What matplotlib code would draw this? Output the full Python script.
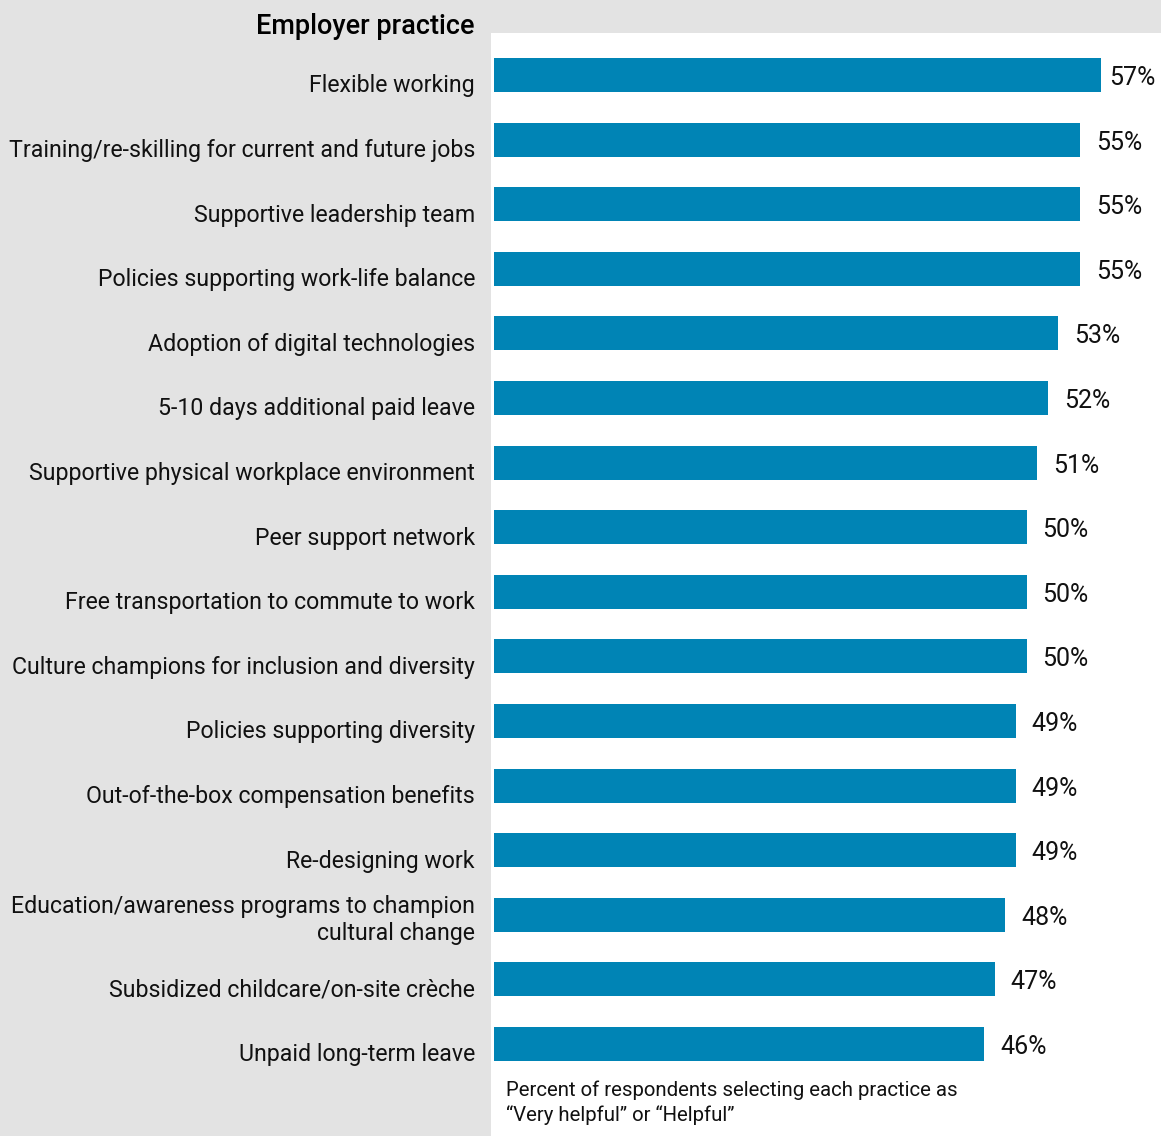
import matplotlib
matplotlib.use('Agg')
import matplotlib.pyplot as plt
import matplotlib.transforms as transforms

practices = [
    'Flexible working',
    'Training/re-skilling for current and future jobs',
    'Supportive leadership team',
    'Policies supporting work-life balance',
    'Adoption of digital technologies',
    '5-10 days additional paid leave',
    'Supportive physical workplace environment',
    'Peer support network',
    'Free transportation to commute to work',
    'Culture champions for inclusion and diversity',
    'Policies supporting diversity',
    'Out-of-the-box compensation benefits',
    'Re-designing work',
    'Education/awareness programs to champion\ncultural change',
    'Subsidized childcare/on-site crèche',
    'Unpaid long-term leave',
]
percent_helpful = [57, 55, 55, 55, 53, 52, 51, 50, 50, 50, 49, 49, 49, 48, 47, 46]

W, H = 1161, 1136
BAR_COLOR = '#0084b5'
GRAY = '#e3e3e3'

plt.rcParams['font.family'] = ['Roboto', 'DejaVu Sans']

fig = plt.figure(figsize=(W / 100, H / 100), dpi=100, facecolor=GRAY)

# white plotting panel to the right of the label column
left_px, top_px = 491, 33
ax = fig.add_axes([left_px / W, 0, 1 - left_px / W, 1 - top_px / H])
ax.set_facecolor('white')

px_per_pct = 10.65
row_px = 64.6
first_center = 75
xmax = (W - left_px - 3) / px_per_pct
ax.set_xlim(-3 / px_per_pct, xmax)
ax.set_ylim((H - first_center) / row_px, (top_px - first_center) / row_px)

rows = list(range(len(practices)))
ax.barh(rows, percent_helpful, height=34 / row_px, color=BAR_COLOR)

# value labels; pulled in closer when they would run off the right edge
for i, v in zip(rows, percent_helpful):
    x = min(v + 16 / px_per_pct, xmax - 52 / px_per_pct)
    ax.text(x, i + 3 / row_px, f'{v}%', va='center', ha='left',
            fontsize=18, color='#111111')

# category labels sit in the gray column, right-aligned
lbl = transforms.blended_transform_factory(fig.transFigure, ax.transData)
for i, name in zip(rows, practices):
    off = 5 / row_px if '\n' in name else 11 / row_px
    ax.text(475 / W, i + off, name, transform=lbl, ha='right', va='center',
            fontsize=16.7, color='#111111', linespacing=1.25, clip_on=False)

fig.text(475 / W, 1 - 26 / H, 'Employer practice', ha='right', va='center',
         fontsize=19.5, fontweight='medium', color='#000000')

fig.text(506 / W, 1 - 1103 / H,
         'Percent of respondents selecting each practice as\n“Very helpful” or “Helpful”',
         ha='left', va='center', fontsize=14.7, color='#111111', linespacing=1.3)

ax.set_xticks([])
ax.set_yticks([])
for s in ax.spines.values():
    s.set_visible(False)

fig.savefig('out.png', dpi=100, facecolor=GRAY)
